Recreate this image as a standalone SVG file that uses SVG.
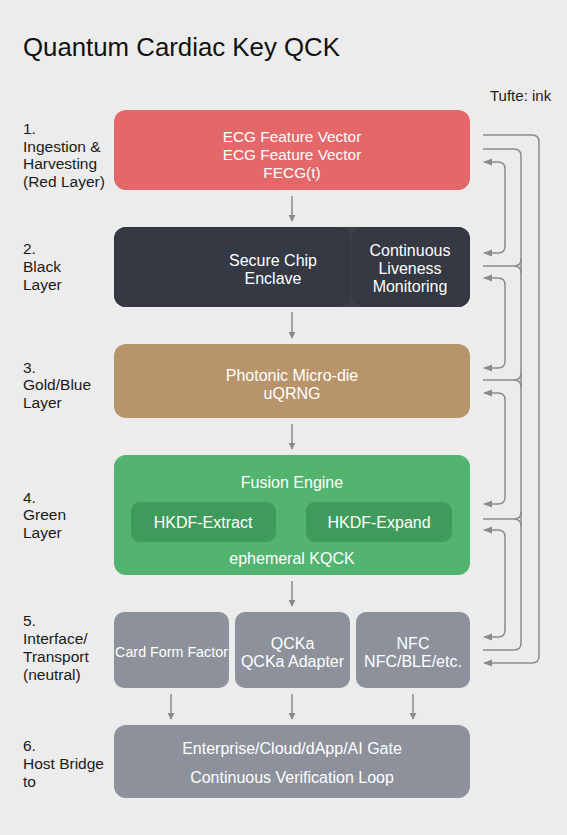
<svg xmlns="http://www.w3.org/2000/svg" width="567" height="835" viewBox="0 0 567 835">
<defs>
<marker id="ah" viewBox="0 0 10 10" refX="9" refY="5" markerWidth="7" markerHeight="7" orient="auto-start-reverse" markerUnits="userSpaceOnUse"><path d="M0,0 L10,5 L0,10 z" fill="#8a8a8a"/></marker>
<marker id="ahs" viewBox="0 0 10 10" refX="9" refY="5" markerWidth="9" markerHeight="9" orient="auto-start-reverse" markerUnits="userSpaceOnUse"><path d="M0,1 L10,5 L0,9 z" fill="#8a8a8a"/></marker>
<style>
text{font-family:"Liberation Sans",Arial,sans-serif}
.lbl{font-size:15.5px;fill:#1a1a1a}
.w{font-size:16px;fill:#ffffff;text-anchor:middle}
.w15{font-size:15.4px;fill:#ffffff;text-anchor:middle}
.ws{font-size:14.3px;fill:#ffffff;text-anchor:middle}
.c{fill:none;stroke:#8a8a8a;stroke-width:1.5}
</style>
</defs>
<rect x="0" y="0" width="567" height="835" fill="#ececec"/>
<text x="23" y="56" style="font-size:25.8px;fill:#111">Quantum Cardiac Key QCK</text>
<text x="490" y="101" style="font-size:15px;fill:#1a1a1a">Tufte: ink</text>

<g id="labels">
<text class="lbl" x="23" y="134">1.</text>
<text class="lbl" x="23" y="152">Ingestion &amp;</text>
<text class="lbl" x="23" y="169">Harvesting</text>
<text class="lbl" x="23" y="187">(Red Layer)</text>
<text class="lbl" x="23" y="254">2.</text>
<text class="lbl" x="23" y="272">Black</text>
<text class="lbl" x="23" y="290">Layer</text>
<text class="lbl" x="23" y="373">3.</text>
<text class="lbl" x="23" y="390">Gold/Blue</text>
<text class="lbl" x="23" y="408">Layer</text>
<text class="lbl" x="23" y="503">4.</text>
<text class="lbl" x="23" y="520">Green</text>
<text class="lbl" x="23" y="538">Layer</text>
<text class="lbl" x="23" y="626">5.</text>
<text class="lbl" x="23" y="644">Interface/</text>
<text class="lbl" x="23" y="662">Transport</text>
<text class="lbl" x="23" y="680">(neutral)</text>
<text class="lbl" x="23" y="751">6.</text>
<text class="lbl" x="23" y="769">Host Bridge</text>
<text class="lbl" x="23" y="787">to</text>
</g>

<g id="red">
<rect x="114" y="110" width="356" height="80" rx="12" fill="#e4676a"/>
<text class="w15" x="292" y="142">ECG Feature Vector</text>
<text class="w15" x="292" y="160">ECG Feature Vector</text>
<text class="w15" x="292" y="178">FECG(t)</text>
</g>

<g id="black">
<rect x="114" y="227" width="356" height="80" rx="12" fill="#3a3f49"/>
<rect x="114" y="227" width="237" height="80" rx="12" fill="#343943"/>
<rect x="352" y="227" width="118" height="80" rx="12" fill="#343943"/>
<text class="w" x="273" y="266">Secure Chip</text>
<text class="w" x="273" y="284">Enclave</text>
<text class="w" x="410" y="256">Continuous</text>
<text class="w" x="410" y="274">Liveness</text>
<text class="w" x="410" y="292">Monitoring</text>
</g>

<g id="gold">
<rect x="114" y="344" width="356" height="74" rx="12" fill="#b8946a"/>
<text class="w" x="292" y="381">Photonic Micro-die</text>
<text class="w" x="292" y="399">uQRNG</text>
</g>

<g id="green">
<rect x="114" y="455" width="356" height="120" rx="12" fill="#53b470"/>
<text class="w" x="292" y="488">Fusion Engine</text>
<rect x="131" y="502" width="145" height="40" rx="9" fill="#3f9b5b"/>
<text class="w" x="203" y="528">HKDF-Extract</text>
<rect x="306" y="502" width="146" height="40" rx="9" fill="#3f9b5b"/>
<text class="w" x="379" y="528">HKDF-Expand</text>
<text class="w" x="292" y="564">ephemeral KQCK</text>
</g>

<g id="card">
<rect x="114" y="612" width="115" height="76" rx="10" fill="#8c919b"/>
<text class="ws" x="171.5" y="657">Card Form Factor</text>
</g>
<g id="adapter">
<rect x="235" y="612" width="115" height="76" rx="10" fill="#8c919b"/>
<text class="w" x="292.5" y="649">QCKa</text>
<text class="w" x="292.5" y="667">QCKa Adapter</text>
</g>
<g id="nfc">
<rect x="356" y="612" width="114" height="76" rx="10" fill="#8c919b"/>
<text class="w" x="413" y="649">NFC</text>
<text class="w" x="413" y="667">NFC/BLE/etc.</text>
</g>

<g id="host">
<rect x="114" y="725" width="356" height="73" rx="12" fill="#8c919b"/>
<text class="w" x="292" y="754">Enterprise/Cloud/dApp/AI Gate</text>
<text class="w" x="292" y="783">Continuous Verification Loop</text>
</g>

<g id="connectors">
<line class="c" x1="292" y1="196" x2="292" y2="221" marker-end="url(#ah)"/>
<line class="c" x1="292" y1="312" x2="292" y2="338" marker-end="url(#ah)"/>
<line class="c" x1="292" y1="424" x2="292" y2="449" marker-end="url(#ah)"/>
<line class="c" x1="292" y1="581" x2="292" y2="606" marker-end="url(#ah)"/>
<line class="c" x1="171" y1="694" x2="171" y2="719" marker-end="url(#ah)"/>
<line class="c" x1="292" y1="694" x2="292" y2="719" marker-end="url(#ah)"/>
<line class="c" x1="413" y1="694" x2="413" y2="719" marker-end="url(#ah)"/>

<path class="c" d="M483,135 H532 Q539,135 539,142 V656 Q539,663 532,663 H484" marker-end="url(#ahs)"/>
<path class="c" d="M483,149 H514 Q521,149 521,156 V643 Q521,650 514,650 H483"/>
<path class="c" d="M483,266 H514 Q521,266 521,259 M514,266 Q521,266 521,273"/>
<path class="c" d="M483,380 H514 Q521,380 521,373 M514,380 Q521,380 521,387"/>
<path class="c" d="M483,519 H514 Q521,519 521,512 M514,519 Q521,519 521,526"/>

<path class="c" d="M484,162 H498 Q505,162 505,169 V246 Q505,253 498,253 H484" marker-start="url(#ahs)" marker-end="url(#ahs)"/>
<path class="c" d="M484,278 H498 Q505,278 505,285 V361 Q505,368 498,368 H484" marker-start="url(#ahs)" marker-end="url(#ahs)"/>
<path class="c" d="M484,393 H498 Q505,393 505,400 V497 Q505,504 498,504 H484" marker-start="url(#ahs)" marker-end="url(#ahs)"/>
<path class="c" d="M484,530 H498 Q505,530 505,537 V630 Q505,637 498,637 H484" marker-start="url(#ahs)" marker-end="url(#ahs)"/>
</g>
</svg>
